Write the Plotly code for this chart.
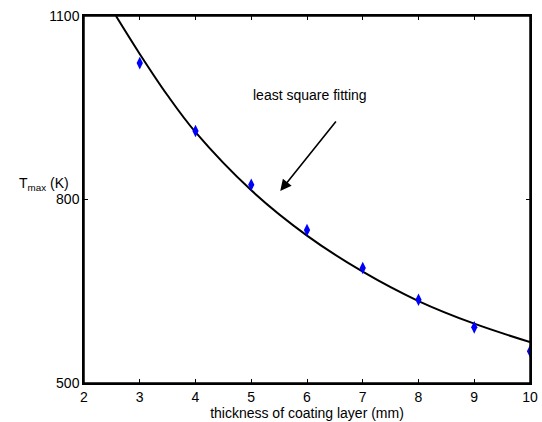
import plotly.graph_objects as go

thickness = [3, 4, 5, 6, 7, 8, 9, 10]
t_max = [1023, 912, 824, 750, 688, 636, 591, 552]

fit_x = [2.574, 3, 3.5, 4, 5, 6, 7, 8, 9, 10]
fit_y = [1100, 1038, 970, 910, 815, 741, 682, 634, 597, 567]

x_ticks = [2, 3, 4, 5, 6, 7, 8, 9, 10]
y_ticks = [500, 800, 1100]

FONT = "Liberation Sans, Arial, sans-serif"
FS = 14

fig = go.Figure()
fig.add_trace(go.Scatter(x=fit_x, y=fit_y, mode="lines",
                         line=dict(color="black", width=2, shape="spline", smoothing=1.0),
                         showlegend=False, hoverinfo="skip"))
fig.add_trace(go.Scatter(x=thickness, y=t_max, mode="markers",
                         marker=dict(symbol="diamond-tall", size=9, color="#0000ff",
                                     line=dict(width=0)),
                         showlegend=False))

axis_common = dict(showline=True, linecolor="black", linewidth=1.5, mirror="ticks",
                   ticks="inside", ticklen=4, tickwidth=1, tickcolor="black",
                   showgrid=False, zeroline=False, automargin=False,
                   ticklabeloverflow="allow",
                   tickfont=dict(family=FONT, size=FS, color="black"))

fig.update_xaxes(range=[2, 10], tickvals=x_ticks, ticktext=[str(v) for v in x_ticks],
                 title=dict(text="thickness of coating layer (mm)", standoff=0,
                            font=dict(family=FONT, size=FS, color="black")),
                 **axis_common)
fig.update_yaxes(range=[500, 1100], tickvals=y_ticks, ticktext=[str(v) for v in y_ticks],
                 ticklabelstandoff=0, **axis_common)

# plot-area frame
fig.add_shape(type="rect", xref="paper", yref="paper", x0=0, y0=0, x1=1, y1=1,
              line=dict(color="black", width=1.5), layer="above")

fig.add_annotation(xref="paper", yref="y", x=(17 - 84) / 446, y=826,
                   xanchor="left", yanchor="middle", showarrow=False,
                   text="T<sub>max</sub> (K)",
                   font=dict(family=FONT, size=FS, color="black"))

fig.add_annotation(xref="x", yref="y", x=6.05, y=971, showarrow=False,
                   text="least square fitting",
                   font=dict(family=FONT, size=FS, color="black"))

fig.add_annotation(xref="x", yref="y", axref="x", ayref="y",
                   x=5.52, y=814, ax=6.54, ay=930, text="",
                   showarrow=True, arrowhead=2, arrowsize=1.4, arrowwidth=1.6,
                   arrowcolor="black")

fig.update_layout(width=542, height=422, plot_bgcolor="white", paper_bgcolor="white",
                  margin=dict(l=84, r=12, t=16, b=38.5),
                  font=dict(family=FONT, color="black"))

fig.write_html("out.html",
               config={"displayModeBar": False},
               post_script="document.body.style.margin='0';"
                           "document.documentElement.style.overflow='hidden';")
